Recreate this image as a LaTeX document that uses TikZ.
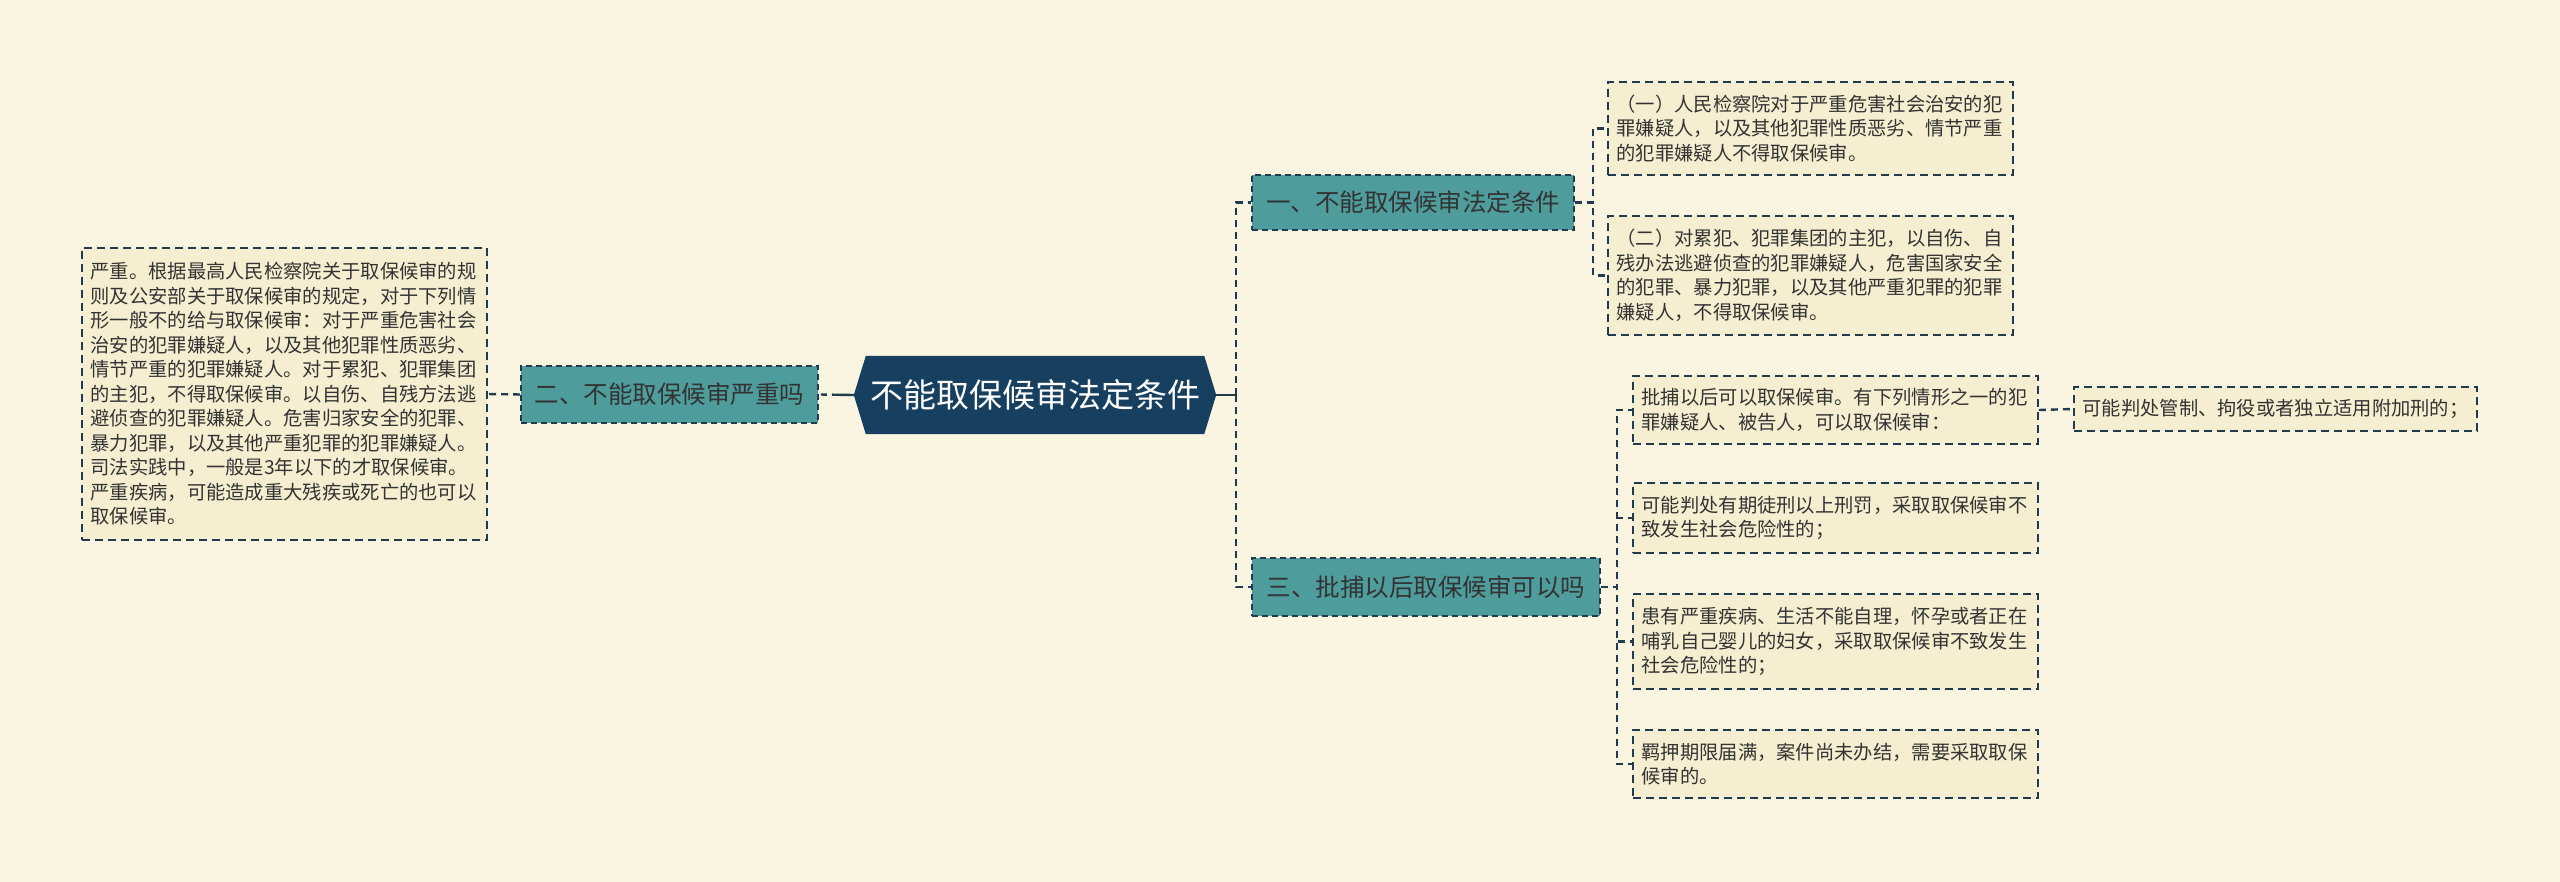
\documentclass[tikz,border=0pt]{standalone}
\usepackage{fontspec}
\setmainfont{Noto Sans CJK SC}
\usetikzlibrary{calc,backgrounds}
\definecolor{bgc}{HTML}{FAF5E1}
\definecolor{leaffill}{HTML}{F5EED0}
\definecolor{teal2}{HTML}{4E9C9C}
\definecolor{navy}{HTML}{173F5F}
\definecolor{edge}{HTML}{1F3B4D}
\definecolor{txt}{HTML}{333333}
\begin{document}
\begin{tikzpicture}[x=1pt,y=-1pt,
  conn/.style={draw=edge, line width=2.4pt, dash pattern=on 7pt off 5pt},
  solidconn/.style={draw=edge, line width=2.4pt},
  leaf/.style={draw=edge, line width=1.6pt, dash pattern=on 8pt off 5pt, fill=leaffill,
    text=txt, font=\fontsize{19.3}{24.5}\selectfont, align=left,
    text width=388pt, inner xsep=8.5pt, inner ysep=4pt, minimum width=405pt},
  branch/.style={draw=edge, line width=1.6pt, dash pattern=on 6pt off 4pt, fill=teal2,
    text=txt, font=\fontsize{24.5}{28}\selectfont, inner sep=0pt},
  center/.style={text=white, font=\fontsize{33}{38}\selectfont, inner sep=0pt,
    minimum width=362pt, minimum height=78pt}]
\useasboundingbox (0,0) rectangle (2560,882);

\node[center] (c) at (1035,395) {不能取保候审法定条件};

\node[branch, minimum width=297pt, minimum height=57pt] (b2) at (669.5,394.5) {二、不能取保候审严重吗};
\node[branch, minimum width=322pt, minimum height=55pt] (b1) at (1413,202.5) {一、不能取保候审法定条件};
\node[branch, minimum width=348pt, minimum height=58pt] (b3) at (1426,587) {三、批捕以后取保候审可以吗};

\node[leaf, minimum height=292pt] (ll) at (284.5,394) {严重。根据最高人民检察院关于取保候审的规\\则及公安部关于取保候审的规定，对于下列情\\形一般不的给与取保候审：对于严重危害社会\\治安的犯罪嫌疑人，以及其他犯罪性质恶劣、\\情节严重的犯罪嫌疑人。对于累犯、犯罪集团\\的主犯，不得取保候审。以自伤、自残方法逃\\避侦查的犯罪嫌疑人。危害归家安全的犯罪、\\暴力犯罪，以及其他严重犯罪的犯罪嫌疑人。\\司法实践中，一般是3年以下的才取保候审。\\严重疾病，可能造成重大残疾或死亡的也可以\\取保候审。};

\node[leaf, minimum height=93pt] (l1a) at (1810.5,128.5) {（一）人民检察院对于严重危害社会治安的犯\\罪嫌疑人，以及其他犯罪性质恶劣、情节严重\\的犯罪嫌疑人不得取保候审。};
\node[leaf, minimum height=119pt] (l1b) at (1810.5,275.5) {（二）对累犯、犯罪集团的主犯，以自伤、自\\残办法逃避侦查的犯罪嫌疑人，危害国家安全\\的犯罪、暴力犯罪，以及其他严重犯罪的犯罪\\嫌疑人，不得取保候审。};

\node[leaf, minimum height=68pt] (l3a) at (1835.5,410) {批捕以后可以取保候审。有下列情形之一的犯\\罪嫌疑人、被告人，可以取保候审：};
\node[leaf, minimum height=70pt] (l3b) at (1835.5,518) {可能判处有期徒刑以上刑罚，采取取保候审不\\致发生社会危险性的；};
\node[leaf, minimum height=95pt] (l3c) at (1835.5,641.5) {患有严重疾病、生活不能自理，怀孕或者正在\\哺乳自己婴儿的妇女，采取取保候审不致发生\\社会危险性的；};
\node[leaf, minimum height=68pt] (l3d) at (1835.5,764) {羁押期限届满，案件尚未办结，需要采取取保\\候审的。};

\node[leaf, minimum height=44pt, minimum width=403pt, text width=386pt] (l3x) at (2275.5,409) {可能判处管制、拘役或者独立适用附加刑的；};

\coordinate (tj) at ($(c.east)+(20,0)$);

\begin{pgfonlayer}{background}
  \fill[bgc] (0,0) rectangle (2560,882);
  \fill[navy] (c.west) -- ($(c.north west)+(12,0)$) -- ($(c.north east)+(-12,0)$) -- (c.east)
     -- ($(c.south east)+(-12,0)$) -- ($(c.south west)+(12,0)$) -- cycle;
  \draw[solidconn, dash pattern=on 22pt off 5pt on 6pt off 5pt] (c.west) -- (b2.east);
  \draw[conn] (b2.west) -- (ll.east);
  \draw[solidconn] (c.east) -- (tj);
  \draw[conn] (tj) |- (b1.west);
  \draw[conn] (tj) |- (b3.west);
  \draw[conn] (b1.east) -- ++(18,0) |- (l1a.west);
  \draw[conn] (b1.east) -- ++(18,0) |- (l1b.west);
  \draw[conn] (b3.east) -- ++(16,0) |- (l3a.west);
  \draw[conn] (b3.east) -- ++(16,0) |- (l3b.west);
  \draw[conn] (b3.east) -- ++(16,0) |- (l3c.west);
  \draw[conn] (b3.east) -- ++(16,0) |- (l3d.west);
  \draw[conn] (l3a.east) -- (l3x.west);
\end{pgfonlayer}
\end{tikzpicture}
\end{document}
